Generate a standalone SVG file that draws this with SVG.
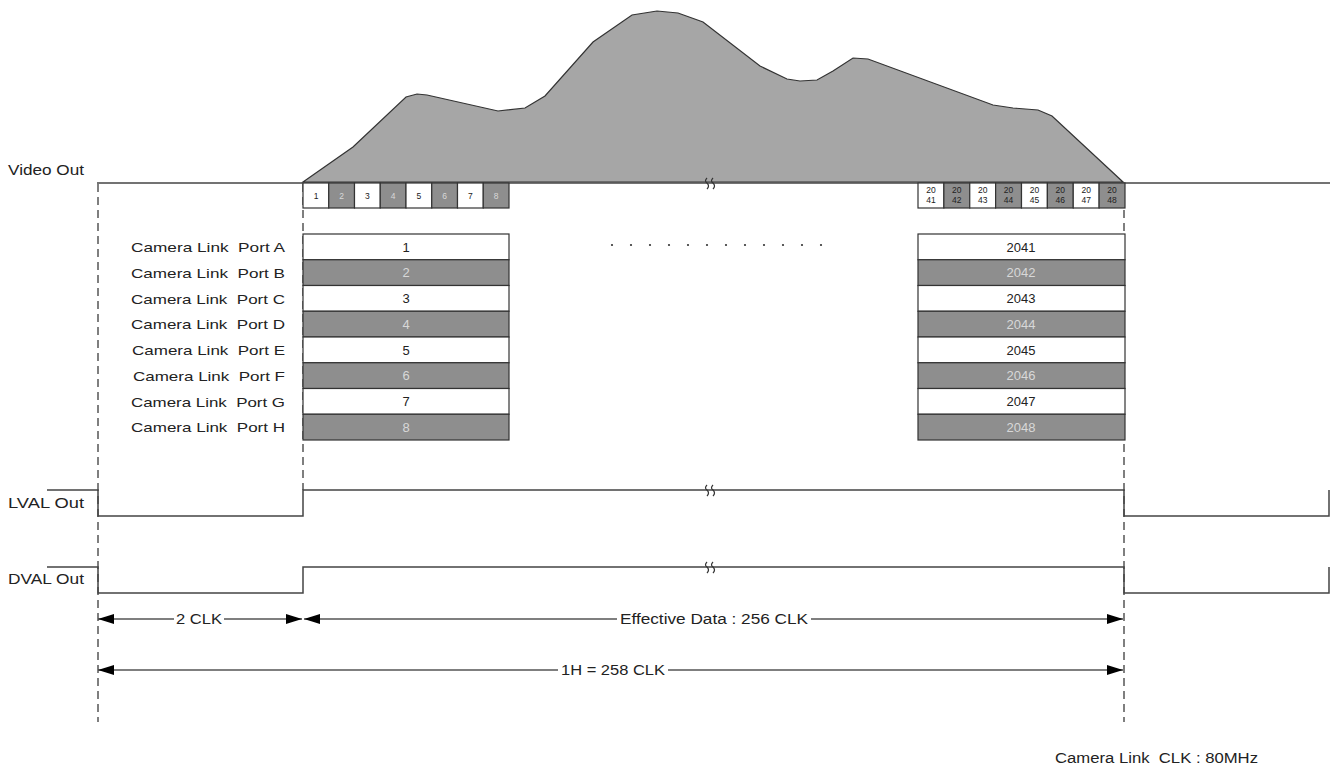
<svg xmlns="http://www.w3.org/2000/svg" width="1338" height="771" viewBox="0 0 1338 771">
<style>
text{font-family:"Liberation Sans",Arial,sans-serif;fill:#222;white-space:pre}
.lbl{font-size:14px}
.plbl{font-size:13.5px;text-anchor:end}
.num{font-size:13px;text-anchor:middle}
.sm{font-size:8.5px;text-anchor:middle}
.lt{fill:#d8d8d8}
.w{fill:#fff;stroke:#333;stroke-width:1.2}
.g{fill:#8e8e8e;stroke:#333;stroke-width:1.2}
.sig{fill:none;stroke:#444;stroke-width:1.5}
.dash{fill:none;stroke:#555;stroke-width:1.5;stroke-dasharray:8,5}
.dim{fill:none;stroke:#555;stroke-width:1.5}
.brk{fill:none;stroke:#333;stroke-width:1.2}
</style>
<defs>
<marker id="ah" viewBox="0 0 16 10" refX="16" refY="5" markerWidth="16" markerHeight="10" markerUnits="userSpaceOnUse" orient="auto-start-reverse">
<path d="M0,0 L16,5 L0,10 Z" fill="#000"/>
</marker>
</defs>
<rect width="1338" height="771" fill="#fff"/>

<g id="waveform">
<path d="M303,182 L353,147 L406,97 L417,94 L427,95 L498,111 L525,108 L545,96 L593,42 L632,15 L657,11 L678,13 L703,22 L760,66 L787,79 L800,81 L817,80 L833,71 L853,58 L868,59 L993,105 L1013,108 L1038,110 L1052,116 L1123,182 Z" fill="#a6a6a6" stroke="#333" stroke-width="1.2"/>
</g>

<g id="connectors">
<line class="dash" x1="98" y1="184" x2="98" y2="722"/>
<line class="dash" x1="303" y1="184" x2="303" y2="490"/>
<line class="dash" x1="1124" y1="184" x2="1124" y2="722"/>
<line class="dim" x1="98" y1="619" x2="302" y2="619" marker-start="url(#ah)" marker-end="url(#ah)"/>
<line class="dim" x1="304" y1="619" x2="1123" y2="619" marker-start="url(#ah)" marker-end="url(#ah)"/>
<line class="dim" x1="98" y1="670" x2="1123" y2="670" marker-start="url(#ah)" marker-end="url(#ah)"/>
</g>

<g id="video-out">
<text class="lbl" x="8" y="175" textLength="76" lengthAdjust="spacingAndGlyphs">Video Out</text>
<line class="sig" x1="97" y1="183" x2="1330" y2="183"/>
<path class="brk" d="M707,178 q-3,3 0,5 q3,3 0,6 M713,178 q-3,3 0,5 q3,3 0,6"/>
</g>

<g id="pixels-start">
<rect class="w" x="303" y="183" width="25.75" height="25"/>
<rect class="g" x="328.75" y="183" width="25.75" height="25"/>
<rect class="w" x="354.5" y="183" width="25.75" height="25"/>
<rect class="g" x="380.25" y="183" width="25.75" height="25"/>
<rect class="w" x="406" y="183" width="25.75" height="25"/>
<rect class="g" x="431.75" y="183" width="25.75" height="25"/>
<rect class="w" x="457.5" y="183" width="25.75" height="25"/>
<rect class="g" x="483.25" y="183" width="25.75" height="25"/>
<text class="sm" x="316" y="199">1</text>
<text class="sm lt" x="341.6" y="199">2</text>
<text class="sm" x="367.4" y="199">3</text>
<text class="sm lt" x="393.1" y="199">4</text>
<text class="sm" x="418.9" y="199">5</text>
<text class="sm lt" x="444.6" y="199">6</text>
<text class="sm" x="470.4" y="199">7</text>
<text class="sm lt" x="496.1" y="199">8</text>
</g>

<g id="pixels-end">
<rect class="w" x="918" y="183" width="25.875" height="25"/>
<rect class="g" x="943.875" y="183" width="25.875" height="25"/>
<rect class="w" x="969.75" y="183" width="25.875" height="25"/>
<rect class="g" x="995.625" y="183" width="25.875" height="25"/>
<rect class="w" x="1021.5" y="183" width="25.875" height="25"/>
<rect class="g" x="1047.375" y="183" width="25.875" height="25"/>
<rect class="w" x="1073.25" y="183" width="25.875" height="25"/>
<rect class="g" x="1099.125" y="183" width="25.875" height="25"/>
<text class="sm" x="931" y="193">20</text><text class="sm" x="931" y="203">41</text>
<text class="sm" x="956.8" y="193">20</text><text class="sm" x="956.8" y="203">42</text>
<text class="sm" x="982.7" y="193">20</text><text class="sm" x="982.7" y="203">43</text>
<text class="sm" x="1008.6" y="193">20</text><text class="sm" x="1008.6" y="203">44</text>
<text class="sm" x="1034.4" y="193">20</text><text class="sm" x="1034.4" y="203">45</text>
<text class="sm" x="1060.3" y="193">20</text><text class="sm" x="1060.3" y="203">46</text>
<text class="sm" x="1086.2" y="193">20</text><text class="sm" x="1086.2" y="203">47</text>
<text class="sm" x="1112" y="193">20</text><text class="sm" x="1112" y="203">48</text>
</g>

<g id="port-labels" xml:space="preserve">
<text class="plbl" x="285" y="252" textLength="154" lengthAdjust="spacingAndGlyphs">Camera Link  Port A</text>
<text class="plbl" x="285" y="277.8" textLength="154" lengthAdjust="spacingAndGlyphs">Camera Link  Port B</text>
<text class="plbl" x="285" y="303.5" textLength="154" lengthAdjust="spacingAndGlyphs">Camera Link  Port C</text>
<text class="plbl" x="285" y="329.3" textLength="154" lengthAdjust="spacingAndGlyphs">Camera Link  Port D</text>
<text class="plbl" x="285" y="355" textLength="153" lengthAdjust="spacingAndGlyphs">Camera Link  Port E</text>
<text class="plbl" x="285" y="380.8" textLength="152" lengthAdjust="spacingAndGlyphs">Camera Link  Port F</text>
<text class="plbl" x="285" y="406.5" textLength="154" lengthAdjust="spacingAndGlyphs">Camera Link  Port G</text>
<text class="plbl" x="285" y="432.3" textLength="154" lengthAdjust="spacingAndGlyphs">Camera Link  Port H</text>
</g>

<g id="ports-start">
<rect class="w" x="303" y="234" width="206" height="25.75"/>
<rect class="g" x="303" y="259.75" width="206" height="25.75"/>
<rect class="w" x="303" y="285.5" width="206" height="25.75"/>
<rect class="g" x="303" y="311.25" width="206" height="25.75"/>
<rect class="w" x="303" y="337" width="206" height="25.75"/>
<rect class="g" x="303" y="362.75" width="206" height="25.75"/>
<rect class="w" x="303" y="388.5" width="206" height="25.75"/>
<rect class="g" x="303" y="414.25" width="206" height="25.75"/>
<text class="num" x="406" y="251.5">1</text>
<text class="num lt" x="406" y="277.2">2</text>
<text class="num" x="406" y="303">3</text>
<text class="num lt" x="406" y="328.7">4</text>
<text class="num" x="406" y="354.5">5</text>
<text class="num lt" x="406" y="380.2">6</text>
<text class="num" x="406" y="406">7</text>
<text class="num lt" x="406" y="431.7">8</text>
</g>

<g id="ellipsis">
<circle cx="612" cy="245" r="1.1" fill="#333"/><circle cx="631" cy="245" r="1.1" fill="#333"/>
<circle cx="650" cy="245" r="1.1" fill="#333"/><circle cx="669" cy="245" r="1.1" fill="#333"/>
<circle cx="688" cy="245" r="1.1" fill="#333"/><circle cx="707" cy="245" r="1.1" fill="#333"/>
<circle cx="726" cy="245" r="1.1" fill="#333"/><circle cx="745" cy="245" r="1.1" fill="#333"/>
<circle cx="764" cy="245" r="1.1" fill="#333"/><circle cx="783" cy="245" r="1.1" fill="#333"/>
<circle cx="802" cy="245" r="1.1" fill="#333"/><circle cx="821" cy="245" r="1.1" fill="#333"/>
</g>

<g id="ports-end">
<rect class="w" x="918" y="234" width="207" height="25.75"/>
<rect class="g" x="918" y="259.75" width="207" height="25.75"/>
<rect class="w" x="918" y="285.5" width="207" height="25.75"/>
<rect class="g" x="918" y="311.25" width="207" height="25.75"/>
<rect class="w" x="918" y="337" width="207" height="25.75"/>
<rect class="g" x="918" y="362.75" width="207" height="25.75"/>
<rect class="w" x="918" y="388.5" width="207" height="25.75"/>
<rect class="g" x="918" y="414.25" width="207" height="25.75"/>
<text class="num" x="1021" y="251.5">2041</text>
<text class="num lt" x="1021" y="277.2">2042</text>
<text class="num" x="1021" y="303">2043</text>
<text class="num lt" x="1021" y="328.7">2044</text>
<text class="num" x="1021" y="354.5">2045</text>
<text class="num lt" x="1021" y="380.2">2046</text>
<text class="num" x="1021" y="406">2047</text>
<text class="num lt" x="1021" y="431.7">2048</text>
</g>

<g id="lval">
<text class="lbl" x="8" y="508" textLength="76" lengthAdjust="spacingAndGlyphs">LVAL Out</text>
<path class="sig" d="M47,490 H98 V516 H303 V490 H1124 V516 H1329 V490"/>
<path class="brk" d="M707,485 q-3,3 0,5 q3,3 0,6 M713,485 q-3,3 0,5 q3,3 0,6"/>
</g>

<g id="dval">
<text class="lbl" x="8" y="584" textLength="76" lengthAdjust="spacingAndGlyphs">DVAL Out</text>
<path class="sig" d="M47,567 H98 V593 H303 V567 H1124 V593 H1329 V567"/>
<path class="brk" d="M707,562 q-3,3 0,5 q3,3 0,6 M713,562 q-3,3 0,5 q3,3 0,6"/>
</g>

<g id="dimension-labels">
<rect x="174" y="610" width="50" height="18" fill="#fff"/>
<text class="lbl" x="199" y="624" text-anchor="middle" textLength="46" lengthAdjust="spacingAndGlyphs">2 CLK</text>
<rect x="617" y="610" width="194" height="18" fill="#fff"/>
<text class="lbl" x="714" y="624" text-anchor="middle" textLength="188" lengthAdjust="spacingAndGlyphs">Effective Data : 256 CLK</text>
<rect x="558" y="661" width="110" height="18" fill="#fff"/>
<text class="lbl" x="613" y="675" text-anchor="middle" textLength="104" lengthAdjust="spacingAndGlyphs">1H = 258 CLK</text>
</g>

<g id="footer" xml:space="preserve">
<text class="lbl" x="1055" y="763" font-size="13" textLength="203" lengthAdjust="spacingAndGlyphs">Camera Link  CLK : 80MHz</text>
</g>
</svg>
